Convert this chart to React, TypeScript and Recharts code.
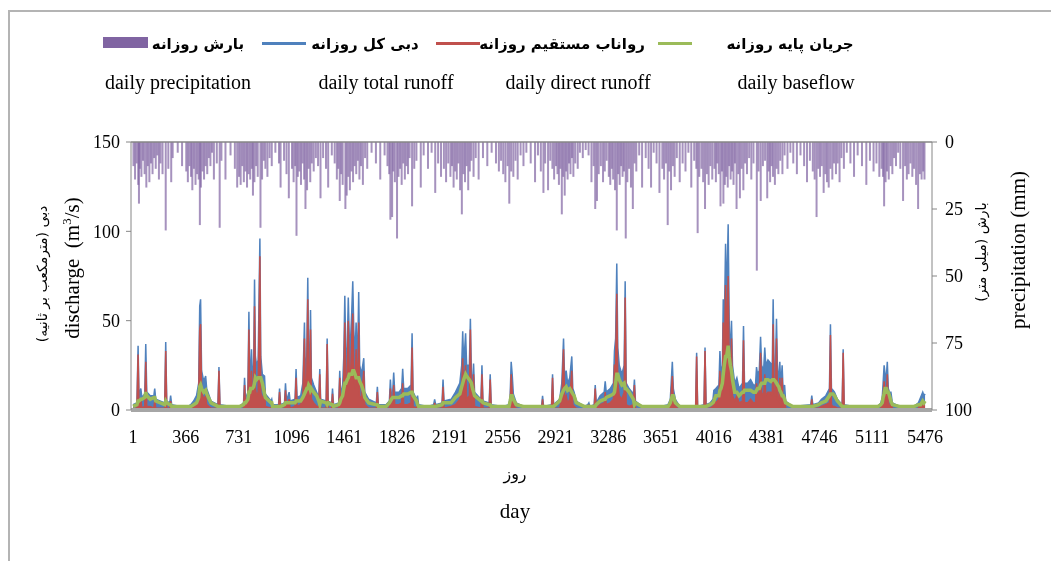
import React from 'react';
import {
  ComposedChart,
  Area,
  Line,
  Bar,
  XAxis,
  YAxis,
  ReferenceLine
} from 'recharts';

// discharge series (m3/s): day, total, direct, base
const qDay = [
  1, 28, 36, 42, 55, 62, 82, 89, 96, 120, 145, 151, 158, 220, 227, 234, 255, 261, 268, 330,
  380, 400, 420, 440, 455, 462, 468, 475, 490, 503, 510, 540, 588, 595, 602, 680,
  740, 765, 772, 779, 795, 802, 808, 814, 820, 826, 835, 841, 847, 855, 866, 878, 884, 895, 910, 916, 955, 960, 966, 1007, 1014, 1021,
  1048, 1055, 1062, 1080, 1087, 1121, 1128, 1135, 1160, 1175, 1186, 1192, 1202, 1209, 1215, 1222, 1228, 1234, 1250, 1270, 1285, 1292, 1298, 1336, 1343, 1350, 1374, 1380, 1387,
  1423, 1430, 1437, 1450, 1458, 1465, 1472, 1482, 1489, 1496, 1505, 1513, 1520, 1527, 1536, 1543, 1550, 1555, 1561, 1568, 1580, 1596, 1603, 1630, 1683, 1690, 1697,
  1750, 1773, 1780, 1787, 1796, 1803, 1810, 1840, 1858, 1865, 1872, 1900, 1923, 1930, 1937, 1961, 1968, 1975, 2040, 2079, 2086, 2093, 2137, 2144, 2151,
  2200, 2230, 2260, 2273, 2280, 2287, 2300, 2307, 2326, 2333, 2340, 2348, 2355, 2362, 2406, 2413, 2420, 2463, 2470, 2477, 2556,
  2600, 2608, 2615, 2622, 2630, 2650, 2700, 2825, 2832, 2839, 2894, 2901, 2908, 2950, 2965, 2977, 2984, 2995, 3005, 3020, 3034, 3041, 3050, 3065, 3120,
  3145, 3152, 3159, 3189, 3196, 3203, 3230, 3258, 3265, 3272, 3300, 3322, 3329, 3337, 3345, 3352, 3362, 3380, 3396, 3403, 3410, 3430, 3460, 3467, 3474, 3520, 3650,
  3700, 3715, 3729, 3736, 3750, 3780, 3890, 3897, 3904, 3948, 3955, 3962, 3990, 4010, 4016, 4030, 4051, 4058, 4065, 4075, 4081, 4088, 4097, 4104, 4115, 4122, 4130, 4138, 4145, 4160, 4175, 4190,
  4214, 4221, 4228, 4250, 4270, 4290, 4304, 4311, 4318, 4330, 4339, 4346, 4360, 4368, 4375, 4390, 4410, 4420, 4426, 4432, 4442, 4449, 4456, 4465, 4472, 4479, 4488, 4495, 4505, 4512, 4560,
  4686, 4693, 4700, 4740, 4760, 4790, 4815, 4822, 4829, 4840, 4850, 4870, 4903, 4910, 4917, 4980, 5150, 5170, 5180, 5186, 5193, 5200, 5208, 5215, 5222, 5230, 5240, 5250, 5300, 5400, 5430, 5445, 5460, 5468, 5476
];
const qTotal = [
  3, 4, 36, 8, 12, 7, 9, 37, 10, 8, 8, 12, 6, 4, 38, 5, 4, 8, 3, 2,
  2, 3, 5, 8, 15, 58, 62, 22, 16, 19, 12, 5, 3, 24, 3, 2,
  2, 4, 18, 6, 10, 55, 20, 22, 34, 20, 25, 73, 30, 25, 28, 96, 30, 20, 19, 9, 5, 6, 3, 3, 12, 3,
  4, 15, 5, 10, 5, 6, 23, 7, 8, 15, 49, 20, 30, 74, 28, 25, 56, 18, 14, 10, 7, 23, 6, 5, 40, 5, 4, 12, 3,
  4, 22, 8, 14, 30, 64, 30, 35, 63, 40, 40, 55, 72, 45, 30, 49, 32, 35, 66, 25, 20, 29, 10, 6, 4, 13, 3,
  3, 5, 17, 8, 10, 21, 10, 10, 12, 23, 12, 12, 14, 43, 10, 6, 8, 3, 2, 3, 6, 3, 4, 17, 5,
  6, 10, 15, 25, 44, 25, 43, 25, 25, 51, 20, 15, 26, 10, 6, 25, 5, 4, 20, 3, 2,
  3, 8, 27, 20, 9, 4, 2, 2, 8, 2, 3, 20, 3, 6, 15, 40, 18, 22, 15, 18, 30, 12, 10, 5, 2,
  3, 4, 2, 3, 14, 4, 8, 10, 16, 10, 12, 15, 33, 40, 82, 35, 25, 20, 25, 72, 15, 12, 9, 17, 5, 2, 2,
  3, 6, 27, 12, 6, 2, 2, 32, 2, 3, 35, 3, 4, 6, 11, 12, 14, 33, 20, 25, 62, 45, 93, 60, 104, 50, 28, 50, 25, 15, 18, 12,
  15, 47, 15, 15, 17, 14, 14, 24, 20, 22, 41, 25, 22, 35, 25, 28, 26, 25, 62, 25, 25, 51, 22, 20, 27, 12, 25, 10, 14, 5, 2,
  3, 8, 3, 4, 6, 8, 12, 48, 12, 11, 10, 6, 3, 34, 3, 2, 2, 4, 7, 15, 25, 20, 18, 27, 12, 10, 10, 4, 2, 2, 4, 7, 10, 8, 9
];
const qDirect = [
  1, 1, 31, 3, 6, 1, 2, 27, 2, 2, 1, 5, 1, 1, 33, 1, 1, 5, 1, 0,
  0, 1, 2, 4, 8, 45, 48, 10, 6, 8, 3, 1, 1, 22, 1, 0,
  0, 1, 14, 2, 4, 45, 10, 10, 22, 8, 12, 58, 12, 8, 10, 86, 10, 5, 12, 2, 1, 2, 1, 1, 10, 1,
  1, 11, 1, 6, 1, 2, 18, 2, 3, 8, 40, 10, 18, 62, 14, 12, 45, 6, 4, 2, 2, 20, 1, 1, 37, 1, 1, 9, 1,
  1, 18, 2, 6, 18, 49, 15, 18, 50, 18, 20, 40, 54, 22, 12, 34, 14, 16, 49, 8, 6, 22, 3, 1, 1, 10, 1,
  1, 1, 12, 2, 3, 14, 3, 3, 4, 15, 3, 3, 4, 35, 2, 1, 5, 1, 0, 1, 4, 1, 1, 13, 1,
  2, 3, 6, 12, 29, 8, 25, 6, 8, 45, 5, 3, 20, 2, 1, 20, 1, 1, 17, 1, 0,
  1, 3, 20, 10, 3, 1, 0, 0, 6, 0, 1, 18, 1, 1, 6, 34, 6, 8, 4, 6, 22, 3, 2, 1, 0,
  1, 3, 0, 1, 12, 1, 3, 4, 10, 3, 4, 6, 25, 25, 65, 15, 8, 6, 10, 63, 3, 2, 3, 14, 1, 0, 0,
  1, 2, 19, 4, 2, 0, 0, 30, 0, 1, 33, 1, 1, 2, 6, 4, 6, 22, 8, 10, 49, 25, 70, 35, 75, 25, 8, 40, 8, 5, 8, 4,
  5, 39, 4, 4, 6, 4, 4, 15, 8, 10, 32, 10, 7, 20, 8, 10, 10, 8, 48, 8, 8, 40, 6, 5, 18, 2, 18, 2, 8, 1, 0,
  1, 6, 1, 1, 2, 3, 4, 42, 3, 2, 2, 1, 1, 32, 1, 0, 0, 1, 3, 8, 16, 8, 6, 20, 2, 2, 5, 1, 0, 0, 1, 4, 5, 4, 4
];
const qBase = [
  2, 3, 5, 5, 6, 6, 7, 10, 8, 6, 7, 7, 5, 3, 5, 4, 3, 3, 2, 2,
  2, 2, 3, 4, 7, 13, 14, 12, 10, 11, 9, 4, 2, 2, 2, 2,
  2, 3, 4, 4, 6, 10, 10, 12, 12, 12, 13, 15, 18, 17, 18, 18, 18, 15, 9, 7, 4, 4, 2, 2, 2, 2,
  3, 4, 4, 4, 4, 4, 5, 5, 5, 7, 9, 10, 12, 12, 14, 13, 11, 12, 10, 8, 5, 3, 5, 4, 3, 4, 3, 3, 2,
  3, 4, 6, 8, 12, 15, 15, 17, 18, 20, 20, 20, 22, 22, 20, 18, 18, 18, 18, 16, 14, 10, 7, 4, 3, 3, 2,
  2, 4, 5, 6, 7, 7, 7, 7, 8, 8, 9, 9, 10, 10, 8, 5, 3, 2, 2, 2, 2, 2, 3, 4, 4,
  4, 7, 9, 13, 15, 17, 20, 19, 17, 16, 15, 12, 10, 8, 5, 5, 4, 3, 3, 2, 2,
  2, 5, 8, 8, 6, 3, 2, 2, 2, 2, 2, 2, 2, 5, 9, 11, 12, 13, 11, 12, 10, 9, 8, 4, 2,
  2, 1, 2, 2, 2, 3, 5, 6, 6, 7, 8, 9, 10, 15, 20, 20, 17, 14, 15, 12, 12, 10, 6, 3, 4, 2, 2,
  2, 4, 8, 8, 4, 2, 2, 2, 2, 2, 2, 2, 3, 4, 5, 8, 8, 11, 12, 15, 20, 25, 30, 30, 36, 30, 25, 22, 17, 10, 10, 8,
  10, 10, 11, 11, 11, 10, 10, 11, 12, 12, 14, 15, 15, 15, 17, 17, 16, 17, 17, 17, 16, 15, 14, 13, 11, 10, 8, 8, 6, 4, 2,
  2, 2, 2, 3, 4, 5, 8, 9, 9, 9, 8, 5, 2, 2, 2, 2, 2, 3, 4, 7, 9, 12, 12, 10, 10, 8, 5, 3, 2, 2, 3, 3, 5, 4, 5
];

// daily precipitation (mm), hanging from the top on the right axis
const rainDay = [
  4, 15, 26, 37, 42, 48, 59, 70, 81, 93, 103, 114, 125, 136, 147, 158, 169, 180, 191, 205, 227, 245, 265, 275, 310, 340,
  369, 380, 391, 402, 411, 422, 433, 444, 455, 463, 470, 481, 492, 503, 514, 525, 536, 547, 560, 580, 600, 612, 640, 675, 705, 721,
  734, 745, 756, 767, 778, 789, 800, 811, 822, 830, 840, 852, 863, 882, 893, 905, 916, 930, 945, 960, 985, 1010, 1021, 1045,
  1062, 1078, 1100, 1111, 1122, 1131, 1140, 1151, 1162, 1173, 1184, 1193, 1204, 1215, 1226, 1237, 1250, 1265, 1280, 1297, 1315, 1335, 1350, 1375, 1395,
  1410, 1420, 1430, 1440, 1450, 1469, 1478, 1489, 1500, 1511, 1522, 1533, 1544, 1555, 1566, 1577, 1590, 1605, 1620, 1650, 1680, 1710, 1740, 1760,
  1772, 1780, 1792, 1800, 1811, 1826, 1836, 1847, 1858, 1869, 1880, 1891, 1902, 1913, 1930, 1945, 1960, 1990, 2010, 2040, 2065, 2090, 2110, 2130,
  2150, 2165, 2180, 2195, 2206, 2217, 2228, 2239, 2250, 2262, 2274, 2285, 2296, 2307, 2318, 2329, 2340, 2355, 2370, 2390, 2420, 2450, 2480, 2510,
  2530, 2545, 2560, 2575, 2590, 2602, 2615, 2630, 2645, 2660, 2680, 2700, 2720, 2750, 2780, 2800, 2820, 2838, 2850, 2870, 2885, 2900, 2912,
  2925, 2935, 2945, 2955, 2965, 2975, 2985, 2995, 3005, 3015, 3025, 3035, 3045, 3058, 3075, 3090, 3110, 3130, 3150, 3170, 3185, 3196, 3208, 3220, 3235, 3250, 3262, 3275,
  3290, 3300, 3310, 3320, 3333, 3345, 3355, 3365, 3375, 3385, 3395, 3407, 3418, 3430, 3443, 3456, 3468, 3480, 3500, 3520, 3545, 3565, 3582, 3600, 3620, 3640,
  3660, 3672, 3685, 3697, 3708, 3720, 3733, 3745, 3760, 3780, 3800, 3820, 3840, 3860, 3880, 3895, 3904, 3915, 3930, 3942, 3955, 3968, 3980, 3992, 4005,
  4020, 4030, 4040, 4050, 4062, 4072, 4082, 4092, 4102, 4112, 4122, 4132, 4142, 4152, 4162, 4173, 4185, 4196, 4208, 4220, 4232, 4245, 4260, 4275, 4290, 4313, 4325, 4340, 4355, 4370,
  4385, 4395, 4405, 4415, 4425, 4438, 4450, 4462, 4475, 4490, 4505, 4525, 4545, 4565, 4590, 4615, 4640, 4660, 4680, 4700, 4713, 4726, 4738, 4750,
  4762, 4775, 4787, 4798, 4810, 4822, 4835, 4847, 4860, 4872, 4885, 4898, 4915, 4935, 4960, 4985, 5010, 5040, 5070, 5095, 5120, 5140, 5160, 5175,
  5185, 5193, 5203, 5213, 5225, 5238, 5250, 5262, 5275, 5290, 5305, 5324, 5338, 5350, 5362, 5375, 5388, 5400, 5414, 5428, 5440, 5452, 5463, 5472
];
const rainMm = [
  9, 14, 8, 16, 23, 10, 13, 7, 12, 17, 9, 15, 8, 12, 6, 10, 5, 14, 8, 12, 33, 10, 15, 6, 4, 9,
  11, 15, 9, 13, 18, 10, 16, 12, 14, 31, 17, 11, 14, 9, 12, 6, 9, 4, 14, 8, 32, 7, 14, 5, 10, 17,
  13, 16, 9, 15, 11, 17, 12, 14, 10, 20, 15, 9, 13, 32, 14, 7, 10, 13, 6, 9, 4, 8, 17, 7,
  12, 21, 10, 15, 9, 35, 13, 11, 16, 8, 14, 25, 18, 10, 15, 8, 11, 6, 9, 21, 6, 10, 17, 5, 8,
  14, 10, 22, 12, 16, 25, 20, 13, 18, 11, 15, 9, 12, 7, 14, 9, 16, 6, 10, 4, 8, 14, 5, 9,
  12, 29, 28, 11, 15, 36, 13, 10, 16, 8, 14, 9, 12, 6, 24, 10, 7, 17, 5, 10, 4, 19, 8, 13,
  10, 15, 8, 13, 9, 17, 11, 14, 8, 18, 27, 12, 15, 9, 18, 11, 7, 13, 6, 14, 6, 9, 4, 8,
  11, 7, 12, 15, 9, 23, 11, 13, 7, 14, 5, 9, 4, 8, 15, 5, 11, 19, 8, 18, 7, 10, 14,
  9, 12, 16, 10, 27, 13, 20, 11, 14, 8, 12, 6, 13, 8, 10, 4, 6, 3, 5, 15, 9, 25, 22, 12, 9, 15, 11, 7,
  13, 16, 10, 14, 18, 33, 12, 16, 9, 13, 11, 36, 15, 10, 17, 25, 8, 11, 5, 17, 6, 10, 17, 4, 8, 19,
  10, 14, 8, 31, 11, 18, 9, 13, 6, 15, 8, 11, 4, 17, 7, 10, 34, 13, 10, 15, 25, 12, 16, 9, 14,
  10, 15, 8, 12, 24, 11, 23, 16, 13, 17, 9, 14, 11, 16, 8, 25, 12, 21, 10, 18, 8, 12, 6, 14, 8, 48, 11, 22, 9, 7,
  21, 11, 15, 9, 13, 16, 10, 12, 7, 12, 5, 10, 4, 8, 12, 5, 9, 15, 7, 11, 14, 28, 10, 13,
  9, 19, 12, 15, 17, 10, 14, 8, 12, 8, 15, 6, 10, 4, 8, 13, 5, 9, 16, 7, 11, 8, 13, 10,
  13, 24, 15, 11, 14, 9, 12, 6, 9, 4, 10, 22, 9, 14, 12, 8, 13, 10, 16, 25, 12, 14, 11, 14
];

const dayTicks = [1, 366, 731, 1096, 1461, 1826, 2191, 2556, 2921, 3286, 3651, 4016, 4381, 4746, 5111, 5476];
const flowTicks = [0, 50, 100, 150];
const rainTicks = [0, 25, 50, 75, 100];

const C_RAIN = '#8064a2';
const C_TOTAL = '#4f81bd';
const C_DIRECT = '#c0504d';
const C_BASE = '#9bbb59';
const AXIS = '#868686';
const SERIF = '"Liberation Serif", "Times New Roman", serif';
const FA = '"DejaVu Sans", sans-serif';

// merge the two series into one table keyed by day
const byDay = new Map<number, any>();
qDay.forEach((d, i) => {
  byDay.set(d, { day: d, total: qTotal[i], direct: qDirect[i], base: qBase[i] });
});
rainDay.forEach((d, i) => {
  const row = byDay.get(d) || { day: d };
  row.rain = rainMm[i];
  byDay.set(d, row);
});
const data = Array.from(byDay.values()).sort((a, b) => a.day - b.day);

// thin fixed-width bars, the library gives position and height
const RainBar = (props: any) => {
  const { x, y, width, height } = props;
  if (x == null || y == null || !height) return null;
  const top = Math.min(y, y + height);
  const h = Math.abs(height);
  const cx = x + (width || 0) / 2;
  return <rect x={cx - 1} y={top} width={2} height={h} fill={C_RAIN} fillOpacity={0.7} />;
};

const Txt: React.FC<{ x: number; y: number; rotate?: number; style?: React.CSSProperties; children: React.ReactNode }> = ({ x, y, rotate, style, children }) => (
  <div
    style={{
      position: 'absolute',
      left: x,
      top: y,
      transform: `translate(-50%, -50%)${rotate ? ` rotate(${rotate}deg)` : ''}`,
      whiteSpace: 'nowrap',
      lineHeight: 1,
      color: '#000',
      ...style
    }}
  >
    {children}
  </div>
);

const legendFa = { fontFamily: FA, fontSize: 15, fontWeight: 'bold' as const, direction: 'rtl' as const };
const legendEn = { fontFamily: SERIF, fontSize: 20 };

const App: React.FC = () => {
  return (
    <div style={{ position: 'relative', width: 1035, height: 545 }}>
      {/* chart frame */}
      <div style={{ position: 'fixed', left: 8, top: 10, width: 1100, height: 600, borderLeft: '2px solid #b4b4b4', borderTop: '2px solid #b4b4b4', pointerEvents: 'none' }} />

      <ComposedChart
        width={1035}
        height={545}
        data={data}
        margin={{ top: 134, right: 61, bottom: 103, left: 73 }}
      >
        <XAxis
          dataKey="day"
          type="number"
          domain={[-13, 5524]}
          ticks={dayTicks}
          interval={0}
          allowDataOverflow
          height={40}
          tickSize={0}
          tickMargin={20}
          axisLine={{ stroke: '#a6a6a6', strokeWidth: 4 }}
          tick={{ fontSize: 18, fill: '#000', fontFamily: SERIF }}
        />
        <YAxis
          yAxisId="q"
          domain={[0, 150]}
          ticks={flowTicks}
          width={50}
          tickSize={5}
          tickMargin={6}
          axisLine={{ stroke: AXIS }}
          tickLine={{ stroke: AXIS }}
          tick={{ fontSize: 18, fill: '#000', fontFamily: SERIF }}
        />
        <YAxis
          yAxisId="rain"
          orientation="right"
          reversed
          domain={[0, 100]}
          ticks={rainTicks}
          width={50}
          tickSize={5}
          tickMargin={8}
          axisLine={{ stroke: AXIS }}
          tickLine={{ stroke: AXIS }}
          tick={{ fontSize: 18, fill: '#000', fontFamily: SERIF }}
        />
        <ReferenceLine yAxisId="q" y={150} stroke={AXIS} strokeWidth={1.5} />
        <Bar
          yAxisId="rain"
          dataKey="rain"
          shape={RainBar}
          isAnimationActive={false}
        />
        <Area
          yAxisId="q"
          type="linear"
          dataKey="total"
          stroke={C_TOTAL}
          strokeWidth={1.5}
          fill={C_TOTAL}
          fillOpacity={1}
          connectNulls
          dot={false}
          activeDot={false}
          isAnimationActive={false}
        />
        <Area
          yAxisId="q"
          type="linear"
          dataKey="direct"
          stroke={C_DIRECT}
          strokeWidth={1.5}
          fill={C_DIRECT}
          fillOpacity={1}
          connectNulls
          dot={false}
          activeDot={false}
          isAnimationActive={false}
        />
        <Line
          yAxisId="q"
          type="linear"
          dataKey="base"
          stroke={C_BASE}
          strokeWidth={3.5}
          connectNulls
          dot={false}
          activeDot={false}
          isAnimationActive={false}
        />
      </ComposedChart>

      {/* legend, Persian row */}
      <div style={{ position: 'absolute', left: 95, top: 29, width: 45, height: 11, background: C_RAIN }} />
      <Txt x={190} y={36} style={legendFa}>بارش روزانه</Txt>
      <div style={{ position: 'absolute', left: 254, top: 34, width: 44, height: 3, background: C_TOTAL }} />
      <Txt x={357} y={36} style={legendFa}>دبی کل روزانه</Txt>
      <div style={{ position: 'absolute', left: 428, top: 34, width: 44, height: 3, background: C_DIRECT }} />
      <Txt x={554} y={36} style={legendFa}>رواناب مستقیم روزانه</Txt>
      <div style={{ position: 'absolute', left: 650, top: 34, width: 34, height: 3, background: C_BASE }} />
      <Txt x={782} y={36} style={legendFa}>جریان پایه روزانه</Txt>

      {/* legend, English row */}
      <Txt x={170} y={74} style={legendEn}>daily precipitation</Txt>
      <Txt x={378} y={74} style={legendEn}>daily total runoff</Txt>
      <Txt x={570} y={74} style={legendEn}>daily direct runoff</Txt>
      <Txt x={788} y={74} style={legendEn}>daily baseflow</Txt>

      {/* axis titles */}
      <Txt x={34} y={266} rotate={-90} style={{ fontFamily: FA, fontSize: 14, direction: 'rtl' }}>دبی (مترمکعب بر ثانیه)</Txt>
      <Txt x={63} y={260} rotate={-90} style={{ fontFamily: SERIF, fontSize: 21 }}>
        discharge&nbsp;&nbsp;(m<sup style={{ fontSize: 13 }}>3</sup>/s)
      </Txt>
      <Txt x={973} y={244} rotate={-90} style={{ fontFamily: FA, fontSize: 14, direction: 'rtl' }}>بارش (میلی متر)</Txt>
      <Txt x={1010} y={242} rotate={-90} style={{ fontFamily: SERIF, fontSize: 21 }}>precipitation (mm)</Txt>
      <Txt x={507} y={466} style={{ fontFamily: FA, fontSize: 16 }}>روز</Txt>
      <Txt x={507} y={503} style={{ fontFamily: SERIF, fontSize: 21 }}>day</Txt>
    </div>
  );
};

export default App;
